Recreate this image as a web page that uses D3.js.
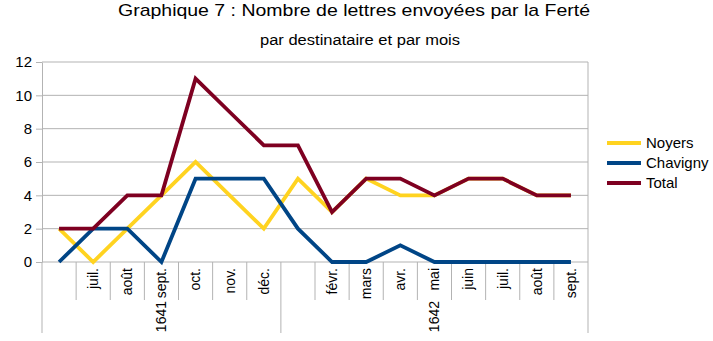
<!DOCTYPE html>
<html>
<head>
<meta charset="utf-8">
<script src="https://cdn.jsdelivr.net/npm/d3@7"></script>
<style>
  body { margin: 0; background: #fff; }
  svg text { font-family: "Liberation Sans", Arial, sans-serif; fill: #000; }
</style>
</head>
<body>
<div id="graphique"></div>
<script>
// mois (catégories) et année de chaque mois
const mois = ["", "juil.", "août", "sept.", "oct.", "nov.", "déc.", "", "févr.", "mars", "avr.", "mai", "juin", "juil.", "août", "sept."];
const annees = ["1641", "1641", "1641", "1641", "1641", "1641", "1641",
                "1642", "1642", "1642", "1642", "1642", "1642", "1642", "1642", "1642"];

// séries
const noyers   = [2, 0, 2, 4, 6, 4, 2, 5, 3, 5, 4, 4, 5, 5, 4, 4];
const chavigny = [0, 2, 2, 0, 5, 5, 5, 2, 0, 0, 1, 0, 0, 0, 0, 0];
const total    = [2, 2, 4, 4, 11, 9, 7, 7, 3, 5, 5, 4, 5, 5, 4, 4];

const yTicks = [0, 2, 4, 6, 8, 10, 12];

const series = [
  { nom: "Noyers", valeurs: noyers, couleur: "#ffd320" },
  { nom: "Chavigny", valeurs: chavigny, couleur: "#004586" },
  { nom: "Total", valeurs: total, couleur: "#7e0021" }
];

const width = 713, height = 341;
const mLeft = 42, mRight = 588, mTop = 62, mBottom = 262;
const gris = "#b3b3b3";

const svg = d3.select("#graphique")
  .append("svg")
  .attr("width", width)
  .attr("height", height);

// titres
svg.append("text")
  .attr("x", 354)
  .attr("y", 16)
  .attr("text-anchor", "middle")
  .attr("font-size", 17)
  .attr("textLength", 472)
  .attr("lengthAdjust", "spacingAndGlyphs")
  .text("Graphique 7 : Nombre de lettres envoyées par la Ferté");

svg.append("text")
  .attr("x", 360)
  .attr("y", 45)
  .attr("text-anchor", "middle")
  .attr("font-size", 14)
  .attr("textLength", 200)
  .attr("lengthAdjust", "spacingAndGlyphs")
  .text("par destinataire et par mois");

const x = d3.scaleBand()
  .domain(d3.range(mois.length))
  .range([mLeft, mRight])
  .padding(0);

const y = d3.scaleLinear()
  .domain([0, 12])
  .range([mBottom, mTop]);

const cx = i => x(i) + x.bandwidth() / 2;

// grille horizontale
svg.append("g")
  .selectAll("line")
  .data(yTicks)
  .enter()
  .append("line")
  .attr("x1", mLeft)
  .attr("x2", mRight)
  .attr("y1", d => y(d))
  .attr("y2", d => y(d))
  .attr("stroke", gris)
  .attr("stroke-width", 1);

// bord droit
svg.append("line")
  .attr("x1", mRight).attr("x2", mRight)
  .attr("y1", mTop).attr("y2", mBottom)
  .attr("stroke", gris);

// axe vertical
const axeY = svg.append("g")
  .attr("transform", `translate(${mLeft},0)`)
  .call(d3.axisLeft(y).tickValues(yTicks).tickSize(6).tickPadding(4).tickSizeOuter(0));
axeY.select(".domain").attr("stroke", gris);
axeY.selectAll(".tick line").attr("stroke", gris);
axeY.selectAll(".tick text")
  .attr("font-size", 15)
  .attr("font-family", "Liberation Sans, Arial, sans-serif");

// séparateurs de l'axe horizontal
const bornes = d3.range(mois.length + 1);
svg.append("g")
  .selectAll("line")
  .data(bornes)
  .enter()
  .append("line")
  .attr("x1", i => i < mois.length ? x(i) : mRight)
  .attr("x2", i => i < mois.length ? x(i) : mRight)
  .attr("y1", mBottom)
  .attr("y2", i => (i === 0 || i === mois.length || annees[i] !== annees[i - 1]) ? 333 : 300)
  .attr("stroke", gris);

// étiquettes des mois
svg.append("g")
  .selectAll("text")
  .data(mois)
  .enter()
  .append("text")
  .attr("transform", (d, i) => `translate(${cx(i)},268) rotate(-90)`)
  .attr("text-anchor", "end")
  .attr("dy", "0.35em")
  .attr("font-size", 14)
  .text(d => d);

// étiquettes des années
const groupes = d3.groups(d3.range(mois.length), i => annees[i]);
svg.append("g")
  .selectAll("text")
  .data(groupes)
  .enter()
  .append("text")
  .attr("transform", ([a, idx]) => {
    const x0 = x(idx[0]);
    const x1 = x(idx[idx.length - 1]) + x.bandwidth();
    return `translate(${(x0 + x1) / 2},301) rotate(-90)`;
  })
  .attr("text-anchor", "end")
  .attr("dy", "0.35em")
  .attr("font-size", 14)
  .text(([a]) => a);

// courbes
const ligne = d3.line()
  .x((d, i) => cx(i))
  .y(d => y(d));

svg.append("g")
  .selectAll("path")
  .data(series)
  .enter()
  .append("path")
  .attr("d", d => ligne(d.valeurs))
  .attr("fill", "none")
  .attr("stroke", d => d.couleur)
  .attr("stroke-width", 3.8);

// légende
const legende = svg.append("g")
  .selectAll("g")
  .data(series)
  .enter()
  .append("g")
  .attr("transform", (d, i) => `translate(607,${143 + i * 20})`);

legende.append("line")
  .attr("x1", 0)
  .attr("x2", 34)
  .attr("stroke", d => d.couleur)
  .attr("stroke-width", 3.8);

legende.append("text")
  .attr("x", 39)
  .attr("dy", "0.35em")
  .attr("font-size", 15)
  .text(d => d.nom);
</script>
</body>
</html>
